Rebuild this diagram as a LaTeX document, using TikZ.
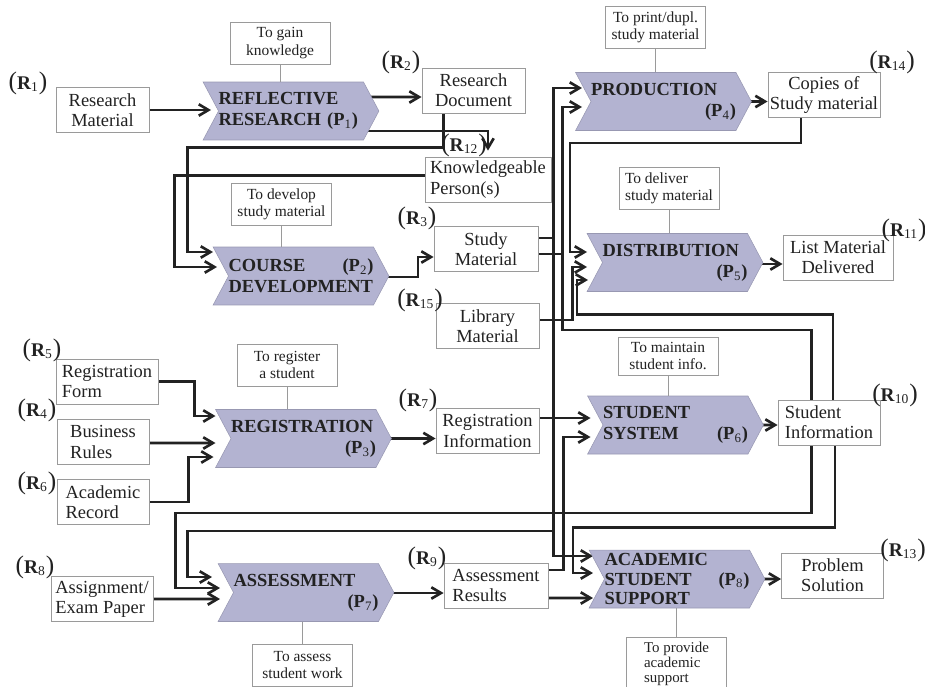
\documentclass[tikz,border=0pt]{standalone}
\usepackage{fontspec}
\setmainfont{Liberation Serif}
\usetikzlibrary{arrows.meta,shapes.symbols,calc,backgrounds}
\definecolor{procfill}{HTML}{B3B3D1}
\definecolor{ink}{HTML}{222222}
\definecolor{frame}{HTML}{9A9A9A}
\newcommand{\Rlab}[1]{{\Large(}\textbf{R}\textsubscript{#1}{\Large)}}
\newcommand{\Plab}[1]{(P\textsubscript{\mdseries #1})}
\tikzset{
  proc/.style={signal, signal to=east, signal from=west, signal pointer angle=124, fill=procfill, draw=procfill!85!black, line width=0.3pt, minimum width=3.48cm, minimum height=1.16cm, inner sep=0pt, text width=2.9cm, align=left, font=\fontsize{10.5}{12}\selectfont\bfseries, text=ink},
  res/.style={rectangle, draw=frame, line width=0.5pt, fill=white, minimum width=2.04cm, minimum height=0.9cm, inner sep=1pt, align=center, font=\fontsize{10.5}{11.5}\selectfont, text=ink},
  goal/.style={rectangle, draw=frame, line width=0.5pt, fill=white, minimum width=2cm, minimum height=0.84cm, inner sep=1pt, align=center, font=\fontsize{8.8}{9.8}\selectfont, text=ink},
  tag/.style={inner sep=0pt, font=\fontsize{11}{12}\selectfont, text=ink},
  edge/.style={-{Straight Barb[length=5.5pt,width=6.5pt]}, line width=1.5pt, ink},
  link/.style={frame, line width=0.5pt},
}
\begin{document}
\begin{tikzpicture}[x=0.02cm, y=-0.02cm]
  \useasboundingbox (0,0) rectangle (925,686);
  \clip (0,0) rectangle (925,686);
  % processes
  \node[proc] (P1) at (291,111) {REFLECTIVE\\RESEARCH \Plab{1}};
  \node[proc] (P2) at (301,276) {COURSE\hfill\Plab{2}\\DEVELOPMENT};
  \node[proc] (P3) at (303.5,438.5) {REGISTRATION\\\mbox{}\hfill\Plab{3}};
  \node[proc] (P4) at (663.5,101.5) {PRODUCTION\\\mbox{}\hfill\Plab{4}};
  \node[proc] (P5) at (675,262.5) {DISTRIBUTION\\\mbox{}\hfill\Plab{5}};
  \node[proc] (P6) at (675.5,425) {STUDENT\\SYSTEM\hfill\Plab{6}};
  \node[proc] (P7) at (306,592.5) {ASSESSMENT\\\mbox{}\hfill\Plab{7}};
  \node[proc, font=\fontsize{10.5}{11.2}\selectfont\bfseries] (P8) at (677,579) {ACADEMIC\\STUDENT\hfill\Plab{8}\\SUPPORT};
  % resources
  \node[res, minimum width=1.86cm] (R1) at (102.5,110) {Research\\Material};
  \node[res, minimum width=2.06cm] (R2) at (473.5,90.5) {Research\\Document};
  \node[res, minimum width=2.52cm, align=left] (R12) at (488,179.5) {Knowledgeable\\Person(s)};
  \node[res, minimum width=2.24cm] (R14) at (824,95) {Copies of\\Study material};
  \node[res, minimum width=2.08cm] (R3) at (486,249) {Study\\Material};
  \node[res, minimum width=2.06cm] (R15) at (487.5,326) {Library\\Material};
  \node[res, minimum width=2.2cm] (R11) at (838,257.5) {List Material\\Delivered};
  \node[res, align=left] (R5) at (107,381.5) {Registration\\Form};
  \node[res, minimum width=1.84cm, align=left] (R4) at (103,442) {Business\\Rules};
  \node[res, minimum width=1.84cm, align=left] (R6) at (103,502) {Academic\\Record};
  \node[res, minimum width=2.06cm] (R7) at (487.5,431) {Registration\\Information};
  \node[res, align=left] (R10) at (829,422.5) {Student\\Information};
  \node[res, align=left] (R8) at (102,599) {Assignment/\\Exam Paper};
  \node[res, minimum width=2.08cm, align=left] (R9) at (496,585.5) {Assessment\\Results};
  \node[res] (R13) at (832.5,575.5) {Problem\\Solution};
  % resource tags
  \node[tag] (t1) at (28,83) {\Rlab{1}};
  \node[tag] (t2) at (401,62) {\Rlab{2}};
  \node[tag] (t12) at (464,145) {\Rlab{12}};
  \node[tag] (t14) at (892,62) {\Rlab{14}};
  \node[tag] (t3) at (417,218) {\Rlab{3}};
  \node[tag] (t15) at (420,300) {\Rlab{15}};
  \node[tag] (t11) at (904,230) {\Rlab{11}};
  \node[tag] (t5) at (42,350) {\Rlab{5}};
  \node[tag] (t4) at (37,410) {\Rlab{4}};
  \node[tag] (t6) at (37,483) {\Rlab{6}};
  \node[tag] (t7) at (418,400) {\Rlab{7}};
  \node[tag] (t10) at (895,395) {\Rlab{10}};
  \node[tag] (t8) at (35,567) {\Rlab{8}};
  \node[tag] (t9) at (427,558) {\Rlab{9}};
  \node[tag] (t13) at (903,550) {\Rlab{13}};
  % goals
  \node[goal] (G1) at (280,43) {To gain\\knowledge};
  \node[goal] (G2) at (281.5,204) {To develop\\study material};
  \node[goal] (G3) at (287,365) {To register\\a student};
  \node[goal] (G4) at (655.5,27) {To print/dupl.\\study material};
  \node[goal, align=left] (G5) at (669,188.5) {To deliver\\study material};
  \node[goal, minimum height=0.76cm] (G6) at (668,356) {To maintain\\student info.};
  \node[goal] (G7) at (302.5,665) {To assess\\student work};
  \node[goal, align=left, anchor=north, minimum height=1.2cm, inner sep=1.5pt, font=\fontsize{8.5}{8.6}\selectfont] (G8) at (676.5,637) {To provide\\academic\\support\\[-3pt]\mbox{}};
  \draw[link] (G1.south) -- (G1.south |- P1.north);
  \draw[link] (G2.south) -- (G2.south |- P2.north);
  \draw[link] (G3.south) -- (G3.south |- P3.north);
  \draw[link] (G4.south) -- (G4.south |- P4.north);
  \draw[link] (G5.south) -- (G5.south |- P5.north);
  \draw[link] (G6.south) -- (G6.south |- P6.north);
  \draw[link] (G7.north) -- (G7.north |- P7.south);
  \draw[link] (G8.north) -- (G8.north |- P8.south);
  \begin{pgfonlayer}{background}
    % research and course development
    \draw[edge] (R1.east) -- ($(P1.center)+(-80,-1)$);
    \draw[edge] ($(P1.center)+(72,-14)$) -- ($(R2.west)+(0,6.5)$);
    \draw[edge] ($(P1.center)+(76,20)$) -| ($(R12.north)+(0,-6)$);
    \draw[edge] ($(R2.south)+(-30,0)$) |- ++(-256,34) |- ($(P2.center)+(-88,-24)$);
    \draw[edge] ($(R12.west)+(0,-4)$) -- ++(-250,0) |- ($(P2.center)+(-84,-9)$);
    \draw[edge] ($(P2.center)+(87,1)$) -- ++(30,0) |- ($(R3.west)+(0,8)$);
    % study material
    \draw[edge] ($(R3.east)+(0,-11)$) -- ++(15,0) |- ($(P4.center)+(-81.5,-13.5)$);
    \draw[edge] ($(R3.east)+(0,5)$) -- ++(24,0) |- ($(P4.center)+(-81.5,5.5)$);
    \draw[edge] ($(R3.east)+(0,-11)$) -- ++(15,0) |- ($(P8.center)+(-84,-23)$);
    \draw[edge] ($(R3.east)+(0,-11)$) -- ++(15,0) -- ++(0,293) -- ++(-366,0) |- ($(P7.center)+(-94,-15.5)$);
    \draw[edge] ($(R3.east)+(0,5)$) -- ++(24,0) -- ++(0,76) -- ++(249,0) -- ++(0,183) -- ++(-636,0) |- ($(P7.center)+(-86,-4.5)$);
    % distribution
    \draw[edge] ($(R14.south)+(-23,0)$) |- ++(-231,25) |- ($(P5.center)+(-88,-10.5)$);
    \draw[edge] ($(R15.east)+(0,-6)$) -- ++(33,0) |- ($(P5.center)+(-88,4.5)$);
    \draw[edge] ($(R10.north)+(4,0)$) |- ++(-256,-85) |- ($(P5.center)+(-87,17.5)$);
    \draw[edge] ($(R10.south)+(6,0)$) |- ++(-262,82) |- ($(P8.center)+(-84,-6)$);
    % student system
    \draw[edge] ($(R7.east)+(0,-13)$) -- ($(P6.center)+(-85,-7)$);
    \draw[edge] ($(R9.east)+(0,-15.5)$) -- ++(15,0) |- ($(P6.center)+(-85,12)$);
    \draw[edge] ($(R9.east)+(0,12.5)$) -- ($(P8.center)+(-84,19)$);
    % outputs
    \draw[edge] ($(P3.center)+(86.5,0)$) -- ($(R7.west)+(0,7.5)$);
    \draw[edge] ($(P4.center)+(86.5,0)$) -- ($(R14.west)+(0,6.5)$);
    \draw[edge] ($(P5.center)+(87,1.5)$) -- ($(R11.west)+(0,6.5)$);
    \draw[edge] ($(P6.center)+(86.5,0)$) -- ($(R10.west)+(0,2.5)$);
    \draw[edge] ($(P7.center)+(87,0.5)$) -- ($(R9.west)+(0,7.5)$);
    \draw[edge] ($(P8.center)+(86,0)$) -- ($(R13.west)+(0,3.5)$);
    % registration and assessment
    \draw[edge] (R5.east) -- ++(36,0) |- ($(P3.center)+(-88,-22.5)$);
    \draw[edge] ($(R4.east)+(0,1)$) -- ($(P3.center)+(-88,4.5)$);
    \draw[edge] (R6.east) -- ++(39,0) |- ($(P3.center)+(-90,18.5)$);
    \draw[edge] (R8.east) -- ($(P7.center)+(-86,6.5)$);
  \end{pgfonlayer}
\end{tikzpicture}
\end{document}
